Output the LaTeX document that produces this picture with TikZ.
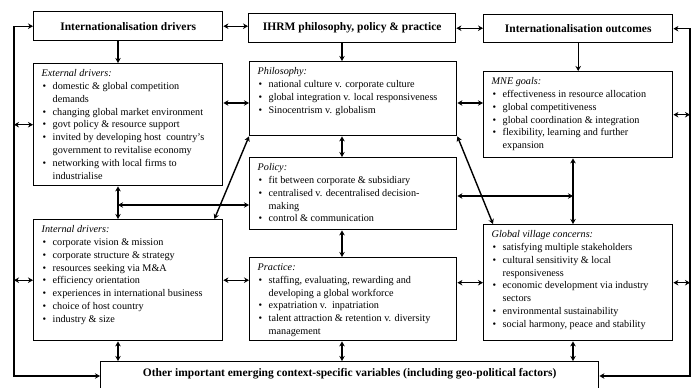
\documentclass[tikz,border=0pt]{standalone}
\usepackage{fontspec}
\setmainfont{Liberation Serif}
\usetikzlibrary{arrows.meta}

\newcommand{\itm}[1]{\par\noindent\hspace*{1pt}\makebox[10pt][l]{\textbullet}#1}
\newcommand{\cont}[1]{\par\noindent\hspace*{11pt}#1}
\newcommand{\boxtext}[3]{\parbox[c][#2][t]{#1}{\raggedright #3}}

\begin{document}
\begin{tikzpicture}[x=1pt,y=-1pt,
  line width=1.4pt,
  title/.style={draw,anchor=north west,inner sep=0pt,font=\bfseries\fontsize{11.5}{13}\selectfont},
  cell/.style={draw,anchor=north west,inner xsep=8pt,inner ysep=6pt,font=\fontsize{10.2}{12.8}\selectfont},
  >={Stealth[length=5pt,width=5.5pt]}]
\useasboundingbox (0,0) rectangle (697,388);
\clip (0,0) rectangle (697,388);
% top row
\node[title,minimum width=189pt,minimum height=29pt] (drv)  at (33,11)  {Internationalisation drivers};
\node[title,minimum width=207pt,minimum height=29pt] (ihrm) at (248,13) {IHRM philosophy, policy \& practice};
\node[title,minimum width=189pt,minimum height=28pt] (out)  at (483,14) {Internationalisation outcomes};
% content boxes
\node[cell] (ext) at (33,63) {\boxtext{173pt}{110pt}{\textit{External drivers:}
  \itm{domestic \& global competition}
  \cont{demands}
  \itm{changing global market environment}
  \itm{govt policy \& resource support}
  \itm{invited by developing host\ \ country's}
  \cont{government to revitalise economy}
  \itm{networking with local firms to}
  \cont{industrialise}}};
\node[cell] (phil) at (249,61) {\boxtext{191pt}{62pt}{\textit{Philosophy:}
  \itm{national culture v. corporate culture}
  \itm{global integration v. local responsiveness}
  \itm{Sinocentrism v. globalism}}};
\node[cell] (mne) at (483,71) {\boxtext{173pt}{74pt}{\textit{MNE goals:}
  \itm{effectiveness in resource allocation}
  \itm{global competitiveness}
  \itm{global coordination \& integration}
  \itm{flexibility, learning and further}
  \cont{expansion}}};
\node[cell] (pol) at (249,157) {\boxtext{191pt}{60pt}{\textit{Policy:}
  \itm{fit between corporate \& subsidiary}
  \itm{centralised v. decentralised decision-}
  \cont{making}
  \itm{control \& communication}}};
\node[cell] (intd) at (33,219) {\boxtext{173pt}{109pt}{\textit{Internal drivers:}
  \itm{corporate vision \& mission}
  \itm{corporate structure \& strategy}
  \itm{resources seeking via M\&A}
  \itm{efficiency orientation}
  \itm{experiences in international business}
  \itm{choice of host country}
  \itm{industry \& size}}};
\node[cell] (prac) at (249,257) {\boxtext{191pt}{71pt}{\textit{Practice:}
  \itm{staffing, evaluating, rewarding and}
  \cont{developing a global workforce}
  \itm{expatriation v.\ \ inpatriation}
  \itm{talent attraction \& retention v. diversity}
  \cont{management}}};
\node[cell] (glob) at (483,224) {\boxtext{173pt}{104pt}{\textit{Global village concerns:}
  \itm{satisfying multiple stakeholders}
  \itm{cultural sensitivity \& local}
  \cont{responsiveness}
  \itm{economic development via industry}
  \cont{sectors}
  \itm{environmental sustainability}
  \itm{social harmony, peace and stability}}};
% bottom box
\node[title,minimum width=498pt,text height=15pt,text depth=24pt] (oth) at (100,361)
  {Other important emerging context-specific variables (including geo-political factors)};
% rails, columns and rows
\coordinate (lb) at (14,376);
\coordinate (rb) at (690,376);
\coordinate (cl) at (118,0);
\coordinate (cm) at (342,0);
\coordinate (cr) at (573,0);
\coordinate (rowa) at (0,103);
\coordinate (rowb) at (0,205);
\coordinate (rowc) at (0,196);
% outer feedback loops
\draw[<->] (drv.west) -| (lb) -- (lb -| oth.west);
\draw[<->] (out.east) -| (rb) -- (rb -| oth.east);
\draw[<->] (lb |- ext.west) -- (ext.west);
\draw[<->] (lb |- intd.west) -- (intd.west);
\draw[<->] (mne.east) -- (rb |- mne.east);
\draw[<->] (glob.east) -- (rb |- glob.east);
% top row links
\draw[<->] (drv.east) -- (drv.east -| ihrm.west);
\draw[<->] (ihrm.east) -- (ihrm.east -| out.west);
% vertical links
\draw[->] (cl |- drv.south) -- (cl |- ext.north);
\draw[<->] (cl |- ext.south) -- (cl |- intd.north);
\draw[<->] (cl |- intd.south) -- (cl |- oth.north);
\draw[->] (cm |- ihrm.south) -- (cm |- phil.north);
\draw[<->] (cm |- phil.south) -- (cm |- pol.north);
\draw[<->] (cm |- pol.south) -- (cm |- prac.north);
\draw[<->] (cm |- prac.south) -- (cm |- oth.north);
\draw[->] (out.south) -- (out.south |- mne.north);
\draw[<->] (cr |- mne.south) -- (cr |- glob.north);
\draw[<->] (cr |- glob.south) -- (cr |- oth.north);
% horizontal links
\draw[<->] (rowa -| ext.east) -- (rowa -| phil.west);
\draw[<->] (rowa -| phil.east) -- (rowa -| mne.west);
\draw[<->] (rowb -| cl) -- (rowb -| pol.west);
\draw[<->] (rowc -| pol.east) -- (rowc -| cr);
\draw[<->] (intd.east) -- (intd.east -| prac.west);
\draw[<->] (glob.west) -- (glob.west -| prac.east);
% diagonals
\draw[<->] ([xshift=-9pt]intd.north east) -- (phil.south west);
\draw[<->] (phil.south east) -- ([xshift=10pt]glob.north west);
\end{tikzpicture}
\end{document}
